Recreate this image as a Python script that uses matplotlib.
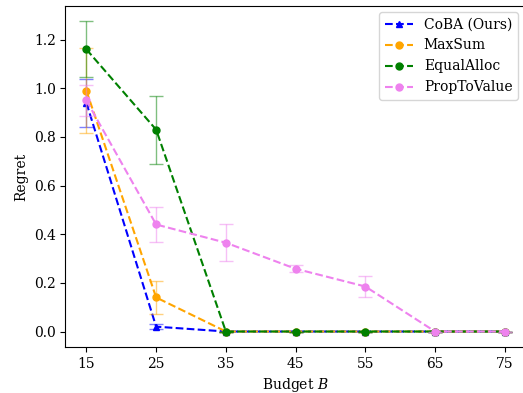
import matplotlib
matplotlib.use('Agg')
import matplotlib.pyplot as plt

plt.rcParams['font.family'] = 'DejaVu Serif'
plt.rcParams['mathtext.fontset'] = 'dejavuserif'

budgets = [15, 25, 35, 45, 55, 65, 75]

coba_mean = [0.94, 0.02, 0.0, 0.0, 0.0, 0.0, 0.0]
coba_err = [0.10, 0.01, 0.0, 0.0, 0.0, 0.0, 0.0]
maxsum_mean = [0.99, 0.14, 0.0, 0.0, 0.0, 0.0, 0.0]
maxsum_err = [0.175, 0.068, 0.0, 0.0, 0.0, 0.0, 0.0]
equal_mean = [1.16, 0.83, 0.0, 0.0, 0.0, 0.0, 0.0]
equal_err = [0.115, 0.14, 0.0, 0.0, 0.0, 0.0, 0.0]
prop_mean = [0.95, 0.44, 0.365, 0.258, 0.185, 0.0, 0.0]
prop_err = [0.065, 0.07, 0.075, 0.015, 0.045, 0.0, 0.0]

series = [
    ('CoBA (Ours)', coba_mean, coba_err, 'blue', '^'),
    ('MaxSum', maxsum_mean, maxsum_err, 'orange', 'o'),
    ('EqualAlloc', equal_mean, equal_err, 'green', 'o'),
    ('PropToValue', prop_mean, prop_err, 'violet', 'o'),
]

fig = plt.figure(figsize=(5.23, 3.93), dpi=100)
# axes run slightly past the right edge of the canvas
ax = fig.add_axes([0.1252, 0.117, 0.880, 0.868])

for label, mean, err, color, marker in series:
    ax.plot(budgets, mean, linestyle='--', marker=marker, color=color,
            markersize=5, label=label)
    ax.errorbar(budgets, mean, yerr=err, fmt='none', ecolor=color,
                alpha=0.5, capsize=5, elinewidth=1)

ax.set_xticks(budgets)
ax.set_xlabel('Budget $B$')
ax.set_ylabel('Regret')
ax.legend(loc='upper right', bbox_to_anchor=(0.9904, 0.9695),
          bbox_transform=fig.transFigure, borderaxespad=0)

fig.savefig('out.png', dpi=100)
